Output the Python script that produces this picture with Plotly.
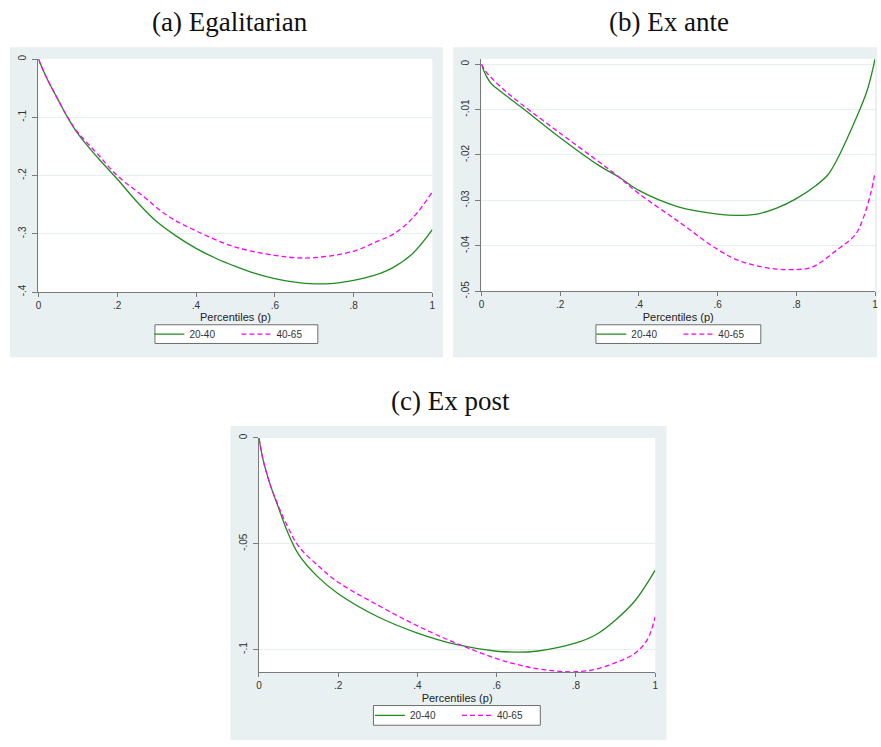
import plotly.graph_objects as go

W, H = 881, 747

# ---------------- data ----------------
series_names = ["20-40", "40-65"]

# (a) Egalitarian
a_p_green = [0, 0.02, 0.05, 0.074, 0.1, 0.15, 0.2, 0.25, 0.3, 0.35, 0.4, 0.45, 0.5, 0.55, 0.6, 0.65, 0.7, 0.75, 0.8, 0.85, 0.9, 0.95, 1.0]
a_green = [0, -0.031, -0.07, -0.1, -0.128, -0.169, -0.206, -0.245, -0.279, -0.304, -0.325, -0.342, -0.356, -0.368, -0.377, -0.383, -0.386, -0.385, -0.380, -0.372, -0.358, -0.334, -0.293]
a_p_mag = [0, 0.02, 0.05, 0.074, 0.1, 0.15, 0.2, 0.263, 0.33, 0.4, 0.5, 0.6, 0.65, 0.7, 0.8, 0.86, 0.9, 0.95, 1.0]
a_mag = [0, -0.031, -0.07, -0.1, -0.126, -0.163, -0.2, -0.234, -0.27, -0.295, -0.323, -0.337, -0.341, -0.341, -0.33, -0.313, -0.301, -0.273, -0.228]

# (b) Ex ante
b_p_green = [0, 0.01, 0.025, 0.05, 0.1, 0.2, 0.3, 0.35, 0.4, 0.5, 0.6, 0.65, 0.7, 0.75, 0.8, 0.85, 0.88, 0.9, 0.95, 0.98, 1.0]
b_green = [0, -0.0022, -0.0043, -0.0061, -0.0094, -0.0162, -0.0224, -0.0249, -0.0278, -0.0314, -0.033, -0.0333, -0.033, -0.0317, -0.0296, -0.0267, -0.0244, -0.0216, -0.0123, -0.0058, 0.0011]
b_p_mag = [0, 0.01, 0.05, 0.1, 0.2, 0.3, 0.35, 0.4, 0.5, 0.6, 0.65, 0.7, 0.75, 0.8, 0.84, 0.9, 0.95, 0.97, 0.99, 1.0]
b_mag = [0, -0.0015, -0.0051, -0.0087, -0.0152, -0.0216, -0.0249, -0.0285, -0.0346, -0.0408, -0.0431, -0.0444, -0.0451, -0.0452, -0.0447, -0.0411, -0.0375, -0.0339, -0.0281, -0.0238]

# (c) Ex post
c_p_green = [0, 0.01, 0.02, 0.03, 0.05, 0.07, 0.1, 0.15, 0.2, 0.3, 0.4, 0.5, 0.6, 0.65, 0.7, 0.8, 0.85, 0.9, 0.95, 1.0]
c_green = [0, -0.010, -0.017, -0.023, -0.0333, -0.0434, -0.055, -0.0659, -0.0736, -0.0845, -0.0922, -0.0977, -0.1008, -0.1012, -0.1008, -0.0969, -0.093, -0.086, -0.0767, -0.0625]
c_p_mag = [0, 0.01, 0.02, 0.03, 0.05, 0.07, 0.1, 0.15, 0.2, 0.3, 0.4, 0.5, 0.6, 0.65, 0.7, 0.75, 0.8, 0.85, 0.9, 0.95, 0.98, 1.0]
c_mag = [0, -0.010, -0.017, -0.023, -0.0326, -0.041, -0.0512, -0.0605, -0.0682, -0.079, -0.0888, -0.0972, -0.1043, -0.107, -0.109, -0.1102, -0.1105, -0.1093, -0.1062, -0.1016, -0.0953, -0.0845]

x_tickvals = [0, 0.2, 0.4, 0.6, 0.8, 1]
x_ticktext = ["0", ".2", ".4", ".6", ".8", "1"]
a_yvals = [0, -0.1, -0.2, -0.3, -0.4]
a_ytext = ["0", "-.1", "-.2", "-.3", "-.4"]
b_yvals = [0, -0.01, -0.02, -0.03, -0.04, -0.05]
b_ytext = ["0", "-.01", "-.02", "-.03", "-.04", "-.05"]
c_yvals = [0, -0.05, -0.1]
c_ytext = ["0", "-.05", "-.1"]

titles = ["(a) Egalitarian", "(b) Ex ante", "(c) Ex post"]
xlabel = "Percentiles (p)"

# ---------------- styling ----------------
GREEN = "#1e8c1e"
MAGENTA = "#ff00ff"
BG = "#e9f0f2"
GRID = "#e6eef0"
AXIS = "#7a7a7a"
SANS = "Liberation Sans, Arial, sans-serif"
TICKFONT = dict(family=SANS, size=10, color="#333333")


def px_x(v):
    return v / W


def px_y(v):
    return 1 - v / H


# plot areas in pixels: (x0, x1, ytop, ybottom)
areas = [
    (35.7, 432.3, 55, 291.7),
    (481.7, 878.0, 55, 291.0),
    (257.7, 656.7, 440, 678.3),
]
panels_bg = [
    (7, 443, 43, 358),
    (453, 880, 43, 358),
    (229, 668, 428, 747),
]
legend_boxes = [
    (153, 317, 325, 344),
    (597, 763, 325, 344),
    (373, 541, 712, 732),
]
yranges = [[-0.4, 0], [-0.05, 0.0011], [-0.1108, 0]]
yticks = [(a_yvals, a_ytext), (b_yvals, b_ytext), (c_yvals, c_ytext)]
data = [
    ((a_p_green, a_green), (a_p_mag, a_mag)),
    ((b_p_green, b_green), (b_p_mag, b_mag)),
    ((c_p_green, c_green), (c_p_mag, c_mag)),
]
title_pos = [(229, 17), (671, 17), (451, 402)]

fig = go.Figure()
layout = dict(
    width=W, height=H,
    margin=dict(l=0, r=0, t=0, b=0),
    paper_bgcolor="white",
    plot_bgcolor="white",
    shapes=[], annotations=[],
)

for i in range(3):
    n = "" if i == 0 else str(i + 1)
    xa, ya = "x" + n, "y" + n
    leg = "legend" + n
    (gx, gy), (mx, my) = data[i]
    fig.add_trace(go.Scatter(x=gx, y=gy, mode="lines", name=series_names[0],
                             line=dict(color=GREEN, width=1.3, shape="spline", smoothing=1.0),
                             xaxis=xa, yaxis=ya, legend=leg))
    fig.add_trace(go.Scatter(x=mx, y=my, mode="lines", name=series_names[1],
                             line=dict(color=MAGENTA, width=1.3, dash="5px,3px", shape="spline", smoothing=1.0),
                             xaxis=xa, yaxis=ya, legend=leg))
    x0, x1, yt, yb = areas[i]
    layout["xaxis" + n] = dict(
        domain=[px_x(x0), px_x(x1)], anchor=ya, range=[0, 1],
        tickvals=x_tickvals, ticktext=x_ticktext, ticks="outside", ticklen=4,
        tickcolor=AXIS, showline=True, linecolor=AXIS, linewidth=1,
        showgrid=False, zeroline=False, tickfont=TICKFONT,
        title=dict(text=xlabel, font=dict(family=SANS, size=11, color="#222222"), standoff=3),
    )
    layout["yaxis" + n] = dict(
        domain=[px_y(yb), px_y(yt)], anchor=xa, range=yranges[i],
        tickvals=yticks[i][0], ticktext=yticks[i][1], tickangle=-90,
        ticks="outside", ticklen=5, tickcolor=AXIS, showline=True, linecolor=AXIS, linewidth=1,
        showgrid=True, gridcolor=GRID, gridwidth=1, zeroline=False, tickfont=TICKFONT,
        ticklabelstandoff=2,
    )
    bx0, bx1, by0, by1 = legend_boxes[i]
    layout[leg] = dict(
        x=px_x((bx0 + bx1) / 2), y=px_y((by0 + by1) / 2), xanchor="center", yanchor="middle",
        orientation="h", bgcolor="rgba(0,0,0,0)", borderwidth=0,
        font=dict(family=SANS, size=10, color="#333333"),
        entrywidth=42, entrywidthmode="pixels", tracegroupgap=0,
    )
    px0, px1, py0, py1 = panels_bg[i]
    layout["shapes"].append(dict(type="rect", xref="paper", yref="paper", layer="below",
                                 x0=px_x(px0), x1=px_x(px1), y0=px_y(py1), y1=px_y(py0),
                                 fillcolor=BG, line=dict(width=0)))
    layout["shapes"].append(dict(type="rect", xref="paper", yref="paper", layer="below",
                                 x0=px_x(x0), x1=px_x(x1), y0=px_y(yb), y1=px_y(yt),
                                 fillcolor="white", line=dict(width=0)))
    layout["shapes"].append(dict(type="rect", xref="paper", yref="paper", layer="below",
                                 x0=px_x(bx0), x1=px_x(bx1), y0=px_y(by1), y1=px_y(by0),
                                 fillcolor="white", line=dict(width=1, color="#6e6e6e")))
    tx, ty = title_pos[i]
    layout["annotations"].append(dict(text=titles[i], x=px_x(tx), y=px_y(ty), xref="paper", yref="paper",
                                      xanchor="center", yanchor="middle", showarrow=False,
                                      font=dict(family="Liberation Serif, Times New Roman, serif", size=27, color="#111111")))

fig.update_layout(**layout)
fig.write_html(
    "out.html",
    config={"displayModeBar": False},
    post_script=(
        "document.documentElement.style.margin='0';document.documentElement.style.padding='0';"
        "document.documentElement.style.overflow='hidden';"
        "document.body.style.margin='0';document.body.style.padding='0';"
        "document.body.style.overflow='hidden';"
    ),
)
